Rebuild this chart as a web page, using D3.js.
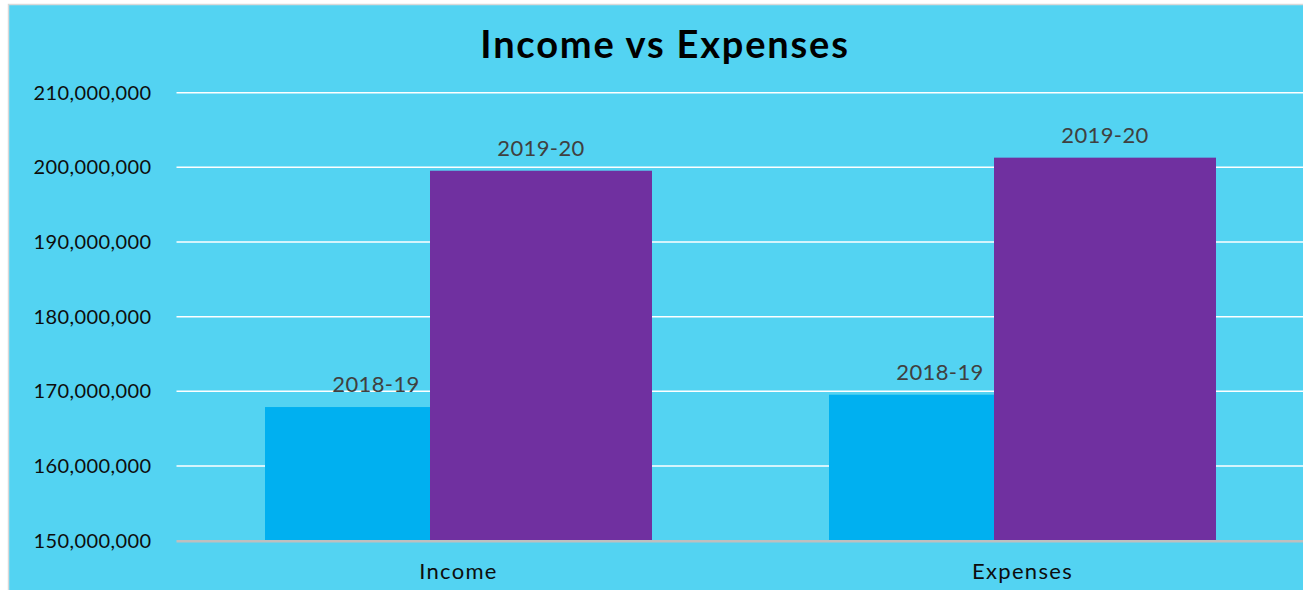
<!DOCTYPE html>
<html>
<head>
<meta charset="utf-8">
<script src="https://cdn.jsdelivr.net/npm/d3@7"></script>
<style>
  html, body { margin: 0; padding: 0; background: #fff; overflow: hidden; }
  svg { display: block; font-family: Lato, "Open Sans", sans-serif; }
</style>
</head>
<body>
<div id="chart"></div>
<script>
// data
const categories = ['Income', 'Expenses'];
const seriesNames = ['2018-19', '2019-20'];
const values2018 = [167900000, 169550000];
const values2019 = [199550000, 201300000];
const yTicks = [150000000, 160000000, 170000000, 180000000, 190000000, 200000000, 210000000];
const seriesColors = ['#00B0F0', '#7030A0'];

const width = 1303, height = 590;
const plot = { left: 176.5, right: 1304.5, top: 92.7, bottom: 540.7 };

const svg = d3.select('#chart').append('svg')
  .attr('width', width)
  .attr('height', height);

// chart area (runs off the right and bottom edge like the reference)
svg.append('rect')
  .attr('x', 8.5).attr('y', 4.5)
  .attr('width', 1340).attr('height', 620)
  .attr('fill', '#53D3F2')
  .attr('stroke', '#D9D9D9')
  .attr('stroke-width', 1.5);

svg.append('text')
  .attr('x', 665).attr('y', 58)
  .attr('text-anchor', 'middle')
  .attr('font-size', 38)
  .attr('font-weight', 700)
  .attr('letter-spacing', 1.8)
  .attr('fill', '#000')
  .text('Income vs Expenses');

const y = d3.scaleLinear()
  .domain([150000000, 210000000])
  .range([plot.bottom, plot.top]);

const x0 = d3.scaleBand()
  .domain(categories)
  .range([plot.left, plot.right]);

// bars overlap, so offsets come from a point scale instead of a nested band
const barW = 222;
const x1 = d3.scalePoint()
  .domain(seriesNames)
  .range([-82.5, 82.5]);

const fmt = d3.format(',');

// gridlines
svg.append('g')
  .selectAll('line')
  .data(yTicks.slice(1))
  .join('line')
  .attr('x1', plot.left).attr('x2', width)
  .attr('y1', d => y(d)).attr('y2', d => y(d))
  .attr('stroke', '#fff')
  .attr('stroke-width', 1.5);

// y axis labels
const yAxis = svg.append('g')
  .attr('transform', `translate(${plot.left - 25},0)`)
  .call(d3.axisLeft(y).tickValues(yTicks).tickFormat(fmt).tickSize(0).tickPadding(0));
yAxis.select('.domain').remove();
yAxis.selectAll('text')
  .attr('font-family', 'Lato, sans-serif')
  .attr('font-size', 20)
  .attr('letter-spacing', 0.4)
  .attr('fill', '#0d0d0d');

// bars
const rows = categories.map((c, i) => ({ cat: c, vals: [values2018[i], values2019[i]] }));
const groups = svg.append('g')
  .selectAll('g')
  .data(rows)
  .join('g')
  .attr('transform', d => `translate(${x0(d.cat) + x0.bandwidth() / 2},0)`);

seriesNames.forEach((s, si) => {
  groups.append('rect')
    .attr('x', x1(s) - barW / 2)
    .attr('y', d => y(d.vals[si]))
    .attr('width', barW)
    .attr('height', d => y(150000000) - y(d.vals[si]))
    .attr('fill', seriesColors[si]);
});

seriesNames.forEach((s, si) => {
  groups.append('text')
    .attr('x', x1(s))
    .attr('y', d => y(d.vals[si]) - 15)
    .attr('text-anchor', 'middle')
    .attr('font-size', 22)
    .attr('letter-spacing', 0.4)
    .attr('fill', '#404040')
    .text(s);
});

// x axis line
svg.append('line')
  .attr('x1', plot.left).attr('x2', width)
  .attr('y1', plot.bottom + 0.5).attr('y2', plot.bottom + 0.5)
  .attr('stroke', '#BFBFBF')
  .attr('stroke-width', 2.5);

const xAxis = svg.append('g')
  .attr('transform', `translate(0,${plot.bottom})`)
  .call(d3.axisBottom(x0).tickSize(0).tickPadding(0));
xAxis.select('.domain').remove();
xAxis.selectAll('text')
  .attr('dy', 0)
  .attr('y', 38)
  .attr('font-family', 'Lato, sans-serif')
  .attr('font-size', 22)
  .attr('letter-spacing', 1.3)
  .attr('fill', '#0d0d0d');
</script>
</body>
</html>
